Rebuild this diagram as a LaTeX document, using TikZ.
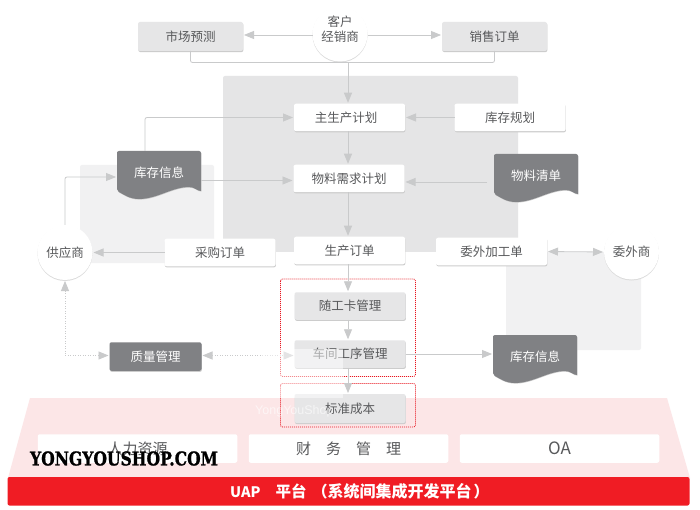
\documentclass[tikz,border=0pt]{standalone}
\usepackage{fontspec}
\usepackage{xcolor}
\setmainfont{Noto Sans CJK SC}
\newfontfamily\markfont[BoldFeatures={FakeBold=1.2}]{DejaVu Serif}
\newfontfamily\wmfont{Liberation Sans}
\usetikzlibrary{calc,arrows.meta,shadows}
\definecolor{linec}{HTML}{C9CACB}
\definecolor{txtc}{HTML}{58595B}
\definecolor{panelc}{HTML}{E5E5E6}
\definecolor{softbg}{HTML}{F1F1F2}
\definecolor{boxg}{HTML}{E6E6E7}
\definecolor{darkg}{HTML}{808184}
\definecolor{pinkbg}{HTML}{FCE6E7}
\definecolor{redbar}{HTML}{F01C24}
\definecolor{framec}{HTML}{E8141E}
\tikzset{
  ar/.style={-{Triangle[length=10pt,width=8pt]},linec,line width=0.8pt,rounded corners=2pt,shorten >=1pt},
  plain/.style={linec,line width=0.8pt,rounded corners=2pt},
  dot/.style={{Triangle[length=10pt,width=8pt]}-{Triangle[length=10pt,width=8pt]},linec,line width=0.8pt,dash pattern=on 1pt off 1.5pt,shorten >=1pt,shorten <=1pt},
  both/.style={{Triangle[length=10pt,width=8pt]}-{Triangle[length=10pt,width=8pt]},linec,line width=0.8pt,shorten >=1pt,shorten <=1pt},
  shad/.style={drop shadow={shadow xshift=0.4pt,shadow yshift=-1.1pt,fill=black!20,opacity=1}},
  box/.style={rectangle,rounded corners=2pt,inner sep=0pt,outer sep=0pt,minimum width=111pt,minimum height=27.5pt,text=txtc,font=\fontsize{12.5}{15}\selectfont,shad},
  wbox/.style={box,fill=white},
  gbox/.style={box,fill=boxg},
  qbox/.style={box,fill=darkg,text=white,minimum width=92pt,minimum height=28.5pt},
  ring/.style={circle,fill=white,inner sep=0pt,outer sep=0pt,minimum size=55pt,align=center,text=txtc,font=\fontsize{12.5}{15}\selectfont,drop shadow={shadow xshift=0pt,shadow yshift=-1pt,fill=black!14,opacity=1}},
  doc/.style={rectangle,inner sep=0pt,outer sep=0pt,minimum width=84pt,minimum height=42pt,text=white,font=\fontsize{12.5}{15}\selectfont},
  base/.style={rectangle,fill=white,rounded corners=2pt,inner sep=0pt,outer sep=0pt,minimum width=199.5pt,minimum height=28.5pt,text=txtc,font=\fontsize{15}{18}\selectfont},
  frm/.style={framec,line width=0.8pt,dash pattern=on 1pt off 1pt,rounded corners=2pt}
}
\newcommand{\docshape}[2]{
  \fill[darkg,shift={(#1,#2)},drop shadow={shadow xshift=0.3pt,shadow yshift=-0.6pt,fill=black!22,opacity=1}] (0,40) .. controls (6,43) and (12,48) .. (22,48) .. controls (40,48) and (55,36) .. (72,36) .. controls (78,36) and (80,40) .. (84,40) -- (84,3) [rounded corners=2pt] -- (84,0) -- (0,0) -- (0,3) -- cycle;
}
\begin{document}
\begin{tikzpicture}[x=1pt,y=-1pt]
\useasboundingbox (0,0) rectangle (700,510);
\fill[white] (0,0) rectangle (700,510);
\fill[softbg,rounded corners=2pt] (80,165) rectangle (214,263);
\fill[softbg,rounded corners=2pt] (506,252) rectangle (641,350);
\fill[panelc,rounded corners=2pt] (223,76) rectangle (518,252);
\fill[pinkbg] (30,398) -- (667,398) -- (690,478) -- (8,478) -- cycle;
\fill[redbar,rounded corners=2pt] (7.5,477) rectangle (689.5,505.5);
\draw[frm] (280.5,279) rectangle (415.5,376.5);
\draw[frm] (280.5,383.5) rectangle (415.5,427);
\docshape{117}{151}
\docshape{494}{154}
\docshape{493}{335}
\node[ring] (client) at (340,34) {\raisebox{10pt}{\shortstack{客户\\经销商}}};
\node[gbox,minimum width=105pt,minimum height=29pt] (market) at (190.5,36.5) {市场预测};
\node[gbox,minimum width=105pt,minimum height=29pt] (sales) at (494.5,36.5) {销售订单};
\node[wbox] (mps) at (349.5,117.5) {\hspace*{-7pt}主生产计划};
\node[wbox] (stockplan) at (510,117.5) {库存规划};
\node[wbox] (mrp) at (349,178.5) {物料需求计划};
\node[doc] (stock) at (159,173) {库存信息};
\node[doc] (bom) at (536,176) {物料清单};
\node[wbox] (prod) at (349.5,250.5) {生产订单};
\node[wbox] (purchase) at (220,252.5) {采购订单};
\node[wbox] (outorder) at (491.5,251.5) {委外加工单};
\node[ring] (supplier) at (65,252.5) {供应商};
\node[ring] (outsrc) at (631.5,252) {委外商};
\node[gbox] (card) at (350,306) {随工卡管理};
\node[gbox] (work) at (350,354) {车间工序管理};
\node[gbox,minimum height=29pt] (cost) at (350,408.5) {标准成本};
\node[qbox] (qc) at (155.5,356.5) {质量管理};
\node[doc] (stockb) at (535,357) {库存信息};
\node[base] (hr) at (137.5,448.5) {人力资源};
\node[base] (fin) at (348.5,448.5) {财\hspace{15pt}务\hspace{15pt}管\hspace{15pt}理};
\node[base] (oa) at (559.5,448.5) {\fontsize{17}{18}\selectfont OA};
\node[inner sep=0pt,anchor=west,text=white,font=\bfseries\fontsize{15.5}{18}\selectfont] (uap) at (230,491) {{\fontsize{14.5}{18}\selectfont UAP}\hspace{15pt}平台\hspace{5.5pt}（{\fontsize{16}{18}\selectfont 系统间集成开发平台}\hspace{2pt}）};
\coordinate (merge) at (348,62.5);
\coordinate (stocktap) at (145,151);
\coordinate (suptap) at (65,225);
\draw[ar] (client.west |- 0,35) -- (market.east |- 0,35);
\draw[ar] (client.east |- 0,35) -- (sales.west |- 0,35);
\draw[plain] (market.south) |- (merge) -| (sales.south);
\draw[ar] (merge) -- (merge |- mps.north);
\draw[ar] (stockplan.west) -- (mps.east);
\draw[ar] (stocktap) |- (mps.west);
\draw[ar] (mps.south -| merge) -- (mrp.north -| merge);
\draw[ar] (stock.east |- 0,180.5) -- (mrp.west |- 0,180.5);
\draw[ar] (bom.west |- 0,182) ++(-7,0) -- (mrp.east |- 0,182);
\draw[ar] (mrp.south -| merge) -- (prod.north -| merge);
\draw[ar] (purchase.west) -- (purchase.west -| supplier.east);
\draw[ar] (suptap) |- (stock.west |- 0,177);
\draw[both] (outorder.east) -- (outsrc.west);
\draw[ar] (prod.south -| merge) -- (card.north -| merge);
\draw[ar] (card.south -| merge) -- (work.north -| merge);
\draw[ar] (work.south -| merge) -- (cost.north -| merge);
\draw[ar] (work.east) -- (work.east -| stockb.west);
\draw[dot] (supplier.south) |- (qc.west |- 0,355.5);
\draw[dot] (qc.east |- 0,355.5) -- (work.west |- 0,355.5);
\fill[white,opacity=0.5] (262,349) rectangle (343,398);
\node[inner sep=0pt,anchor=west,text=white,opacity=0.6,font=\wmfont\fontsize{12.5}{15}\selectfont] (wmtext) at (255,411) {YongYouShop};
\node[inner sep=0pt,text=black,xscale=0.82,transform shape,font=\markfont\bfseries\fontsize{19}{21}\selectfont] (wmmark) at (124,458.5) {YONGYOUSHOP.COM};
\end{tikzpicture}
\end{document}
